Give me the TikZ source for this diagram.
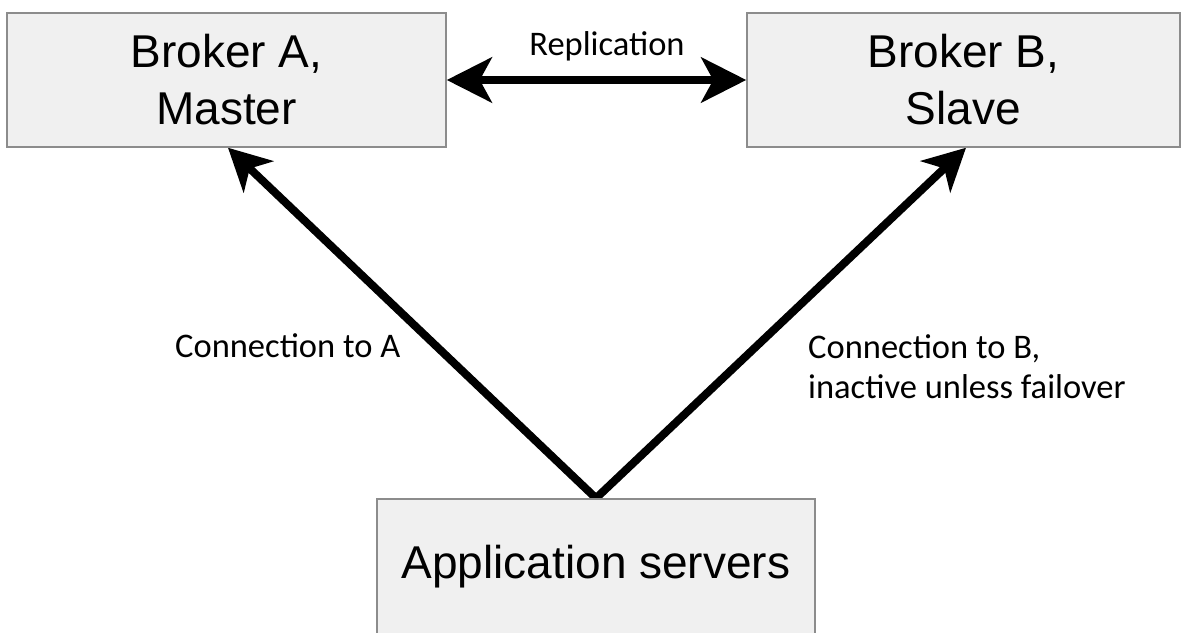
\documentclass[tikz,border=0pt]{standalone}
\usepackage{fontspec}
\setmainfont{Liberation Sans}
\newfontfamily\labelfont{Carlito}
\usetikzlibrary{arrows.meta}
\pgfdeclarelayer{background}
\pgfsetlayers{background,main}
\definecolor{boxfill}{HTML}{F0F0F0}
\definecolor{boxborder}{HTML}{8C8C8C}
\begin{document}
\begin{tikzpicture}[x=1pt,y=-1pt,
  box/.style={draw=boxborder, line width=1.5pt, fill=boxfill, inner sep=0pt, align=center,
              font=\fontsize{46}{57}\selectfont},
  conn/.style={line width=8pt, -{Stealth[length=42pt,width=43pt,inset=12pt]}},
  repl/.style={line width=8pt, {Stealth[length=45pt,width=45pt,inset=12pt]}-{Stealth[length=45pt,width=45pt,inset=12pt]}},
  lbl/.style={font=\labelfont\fontsize{34.5}{40}\selectfont, inner sep=0pt}]
\useasboundingbox (0,0) rectangle (1183,632);
\node[box, minimum width=439pt, minimum height=134pt] (A) at (226.5,80) {Broker A,\\Master};
\node[box, minimum width=433pt, minimum height=134pt] (B) at (963.5,80) {Broker B,\\Slave};
\node[box, minimum width=438pt, minimum height=135pt] (app) at (596,566.5) {Application servers};
\begin{pgfonlayer}{background}
\draw[conn] (app.north) -- ([xshift=1.5pt]A.south);
\draw[conn] (app.north) -- ([xshift=2.5pt]B.south);
\end{pgfonlayer}
\draw[repl] (A.east) -- (B.west);
\node[lbl, anchor=base] (rep) at (607,55) {Replication};
\node[lbl, anchor=base west] (ca) at (175,357) {Connection to A};
\node[lbl, anchor=base west, align=left] (cb) at (808,398) {Connection to B,\\inactive unless failover};
\end{tikzpicture}
\end{document}
